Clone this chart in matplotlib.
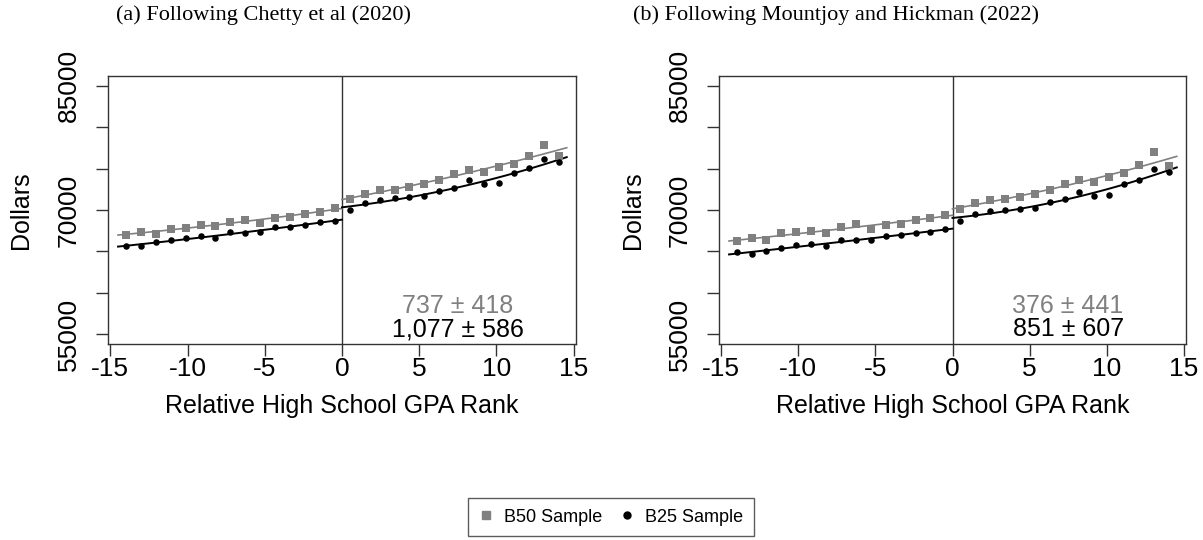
import matplotlib.pyplot as plt
import numpy as np

plt.rcParams["font.family"] = ["Liberation Sans", "DejaVu Sans"]
plt.rcParams["axes.unicode_minus"] = False

# bin positions (relative GPA rank)
x_left = [-14.0, -13.03, -12.07, -11.1, -10.13, -9.16, -8.2, -7.23,
          -6.26, -5.3, -4.33, -3.36, -2.4, -1.43, -0.47]
x_right = [0.49, 1.46, 2.43, 3.4, 4.37, 5.34, 6.3, 7.27,
           8.24, 9.21, 10.17, 11.14, 12.1, 13.07, 14.04]

# panel (a) Chetty et al
a_b50_left = [66960, 67350, 67110, 67760, 67880, 68200, 68080, 68600,
              68850, 68400, 69040, 69120, 69570, 69810, 70240]
a_b50_right = [71290, 71930, 72370, 72450, 72820, 73130, 73570, 74330,
               74860, 74540, 75220, 75530, 76540, 77870, 76500]
a_b25_left = [65670, 65670, 66150, 66320, 66630, 66800, 66630, 67280,
              67200, 67320, 67920, 67920, 68200, 68560, 68720]
a_b25_right = [70000, 70840, 71250, 71410, 71560, 71650, 72250, 72700,
               73660, 73090, 73210, 74420, 75020, 76140, 75860]

# panel (b) Mountjoy and Hickman
b_b50_left = [66270, 66630, 66360, 67160, 67280, 67520, 67230, 67960,
              68280, 67710, 68240, 68360, 68800, 69090, 69400]
b_b50_right = [70120, 70810, 71250, 71290, 71560, 71890, 72410, 73130,
               73660, 73370, 73970, 74450, 75460, 76980, 75260]
b_b25_left = [64880, 64670, 65070, 65360, 65720, 65910, 65670, 66360,
              66320, 66360, 66870, 66990, 67200, 67400, 67680]
b_b25_right = [68680, 69520, 69930, 70050, 70080, 70210, 71010, 71290,
               72210, 71680, 71770, 73130, 73610, 74980, 74540]

titles = ["(a) Following Chetty et al (2020)",
          "(b) Following Mountjoy and Hickman (2022)"]
title_x = [264, 836]
est_b50 = ["737 \u00b1 418", "376 \u00b1 441"]
est_b25 = ["1,077 \u00b1 586", "851 \u00b1 607"]

yticks = [55000, 60000, 65000, 70000, 75000, 80000, 85000]
ytick_labels = ["55000", "", "", "70000", "", "", "85000"]
xticks = [-15, -10, -5, 0, 5, 10, 15]

GRAY = "#808080"
FRAME = "#333333"

panels = [
    (a_b50_left, a_b50_right, a_b25_left, a_b25_right),
    (b_b50_left, b_b50_right, b_b25_left, b_b25_right),
]

W, H = 1203, 540
fig = plt.figure(figsize=(W / 100, H / 100), dpi=100)

ax_boxes = [(108, 76, 576, 344), (719, 76, 1186, 344)]

for k, (box, data) in enumerate(zip(ax_boxes, panels)):
    l, t, r, b = box
    ax = fig.add_axes([l / W, 1 - b / H, (r - l) / W, (b - t) / H])
    g_l, g_r, k_l, k_r = data

    # quadratic fits on each side of the cutoff
    for xs, ys, col, lw in [(x_left, g_l, GRAY, 1.2), (x_right, g_r, GRAY, 1.2),
                            (x_left, k_l, "black", 1.4), (x_right, k_r, "black", 1.4)]:
        coef = np.polyfit(xs, ys, 2)
        if xs[0] < 0:
            xx = np.linspace(-14.5, 0, 60)
        else:
            xx = np.linspace(0, 14.55, 60)
        ax.plot(xx, np.polyval(coef, xx), color=col, lw=lw, zorder=2)

    ax.scatter(x_left + x_right, g_l + g_r, marker="s", s=30, color=GRAY,
               linewidths=0, zorder=3)
    ax.scatter(x_left + x_right, k_l + k_r, marker="o", s=22, color="black",
               linewidths=0, zorder=4)

    ax.axvline(0, color=FRAME, lw=1.0, zorder=1)

    ax.text(7.5, 58450, est_b50[k], color=GRAY, fontsize=18,
            ha="center", va="center")
    ax.text(7.5, 55560, est_b25[k], color="black", fontsize=18,
            ha="center", va="center")

    ax.set_xlim(-15.15, 15.15)
    ax.set_ylim(53800, 86200)
    ax.set_xticks(xticks)
    ax.set_xticklabels([str(v) for v in xticks])
    ax.set_yticks(yticks)
    ax.set_yticklabels(ytick_labels, rotation=90, va="center")
    ax.tick_params(axis="both", length=8.5, width=1.0, color=FRAME,
                   labelsize=19)
    ax.tick_params(axis="x", pad=1)
    ax.tick_params(axis="y", pad=11)
    for s in ax.spines.values():
        s.set_color(FRAME)
        s.set_linewidth(1.0)

    ax.set_xlabel("Relative High School GPA Rank", fontsize=18)
    ax.xaxis.set_label_coords(0.5, -0.23)
    ax.xaxis.label.set_va("center")
    ax.set_ylabel("Dollars", fontsize=18)
    ax.yaxis.set_label_coords(-0.185, 0.5)
    ax.yaxis.label.set_va("center")

    fig.text(title_x[k] / W, 1 - 15 / H, titles[k], ha="center", va="center",
             fontsize=16, family=["Liberation Serif", "DejaVu Serif"])

handles = [
    plt.Line2D([], [], marker="s", ls="none", color=GRAY, markersize=6),
    plt.Line2D([], [], marker="o", ls="none", color="black", markersize=5),
]
leg = fig.legend(handles, ["B50 Sample", "B25 Sample"], ncol=2,
                 loc="center", bbox_to_anchor=(611 / W, 1 - 517 / H),
                 fontsize=13, frameon=True, fancybox=False,
                 handlelength=0.8, handletextpad=0.6, columnspacing=1.0,
                 borderpad=0.6)
leg.get_frame().set_edgecolor(FRAME)
leg.get_frame().set_linewidth(1.0)

fig.savefig("out.png", dpi=100)
